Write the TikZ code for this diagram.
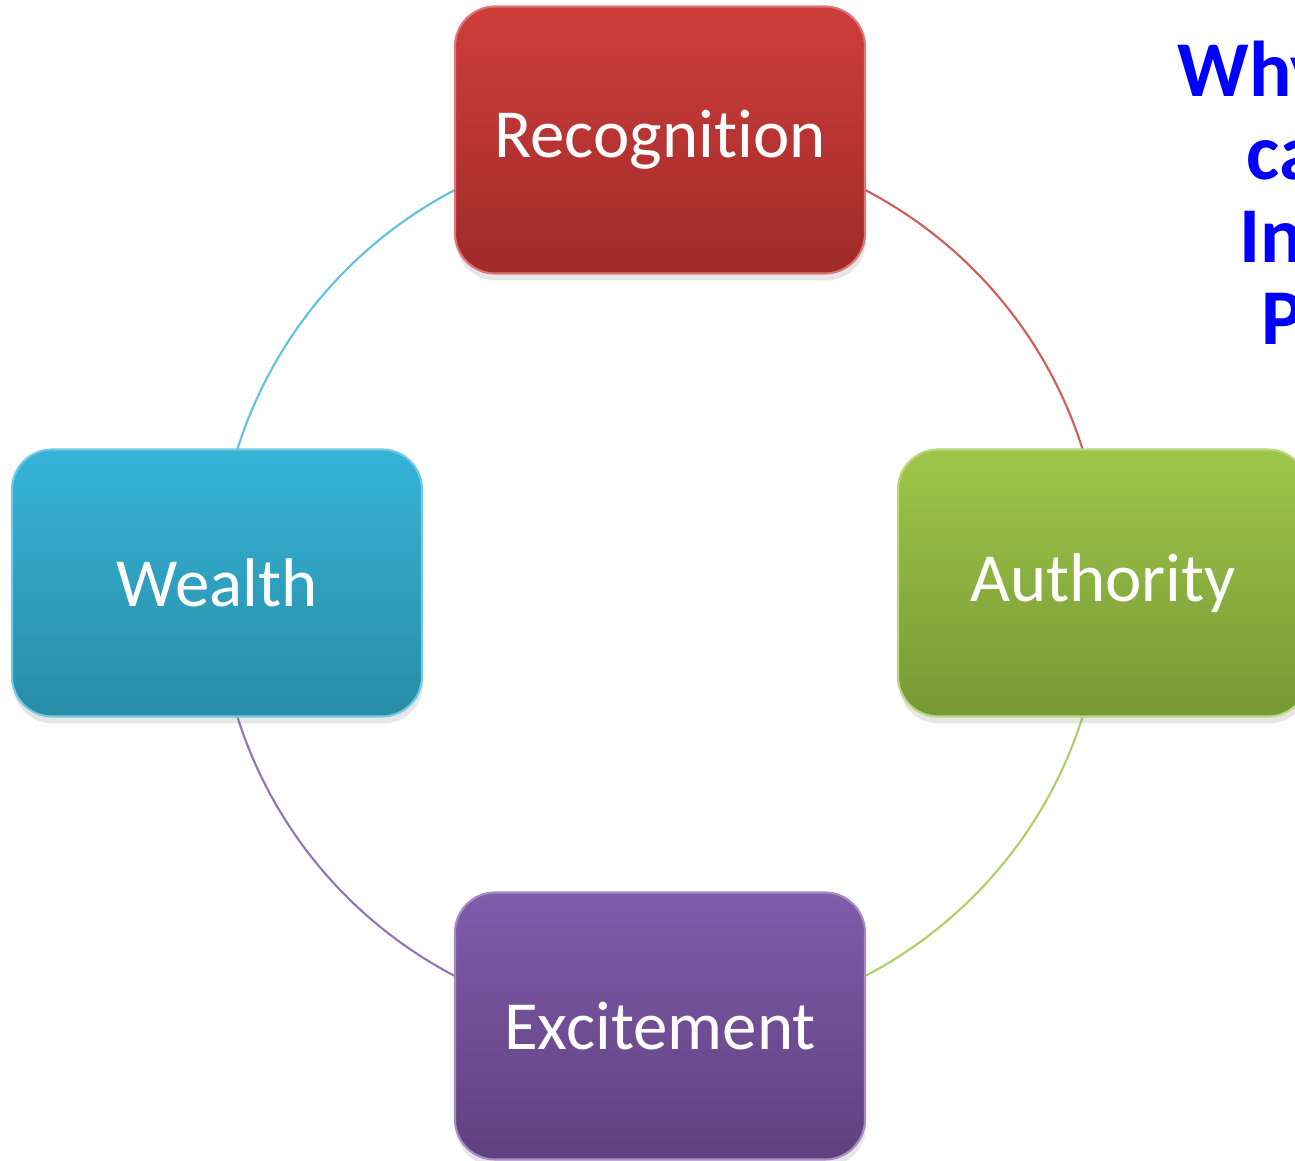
\documentclass[tikz,border=0pt]{standalone}
\usepackage{fontspec}
\setmainfont[Ligatures=NoCommon]{Carlito}
\usetikzlibrary{shadows,backgrounds}

\definecolor{recred}{RGB}{206,62,59}
\definecolor{recreddark}{RGB}{160,43,42}
\definecolor{autgreen}{RGB}{158,198,74}
\definecolor{autgreendark}{RGB}{119,153,53}
\definecolor{weacyan}{RGB}{54,180,216}
\definecolor{weacyandark}{RGB}{40,140,166}
\definecolor{excpurple}{RGB}{127,92,170}
\definecolor{excpurpledark}{RGB}{97,64,128}
\definecolor{whyblue}{RGB}{0,0,255}

\begin{document}
\begin{tikzpicture}[
  box/.style={rectangle, rounded corners=0.4cm, minimum width=4.1cm, minimum height=2.67cm,
    text=white, font=\fontsize{19.6}{23}\selectfont, line width=0.6pt,
    drop shadow={shadow xshift=0.1mm, shadow yshift=-0.7mm, opacity=0.2}},
  ring/.style={line width=0.6pt},
  why/.style={anchor=base west, inner sep=0pt, text=whyblue, font=\fontsize{22.5}{26}\selectfont\bfseries}
]
\useasboundingbox (-6.60,-5.78) rectangle (6.35,5.83);

% Nodes
\node[box, top color=recred, bottom color=recreddark, draw=recred!70!white] (R) at (0,4.43) {Recognition};
\node[box, top color=autgreen, bottom color=autgreendark, draw=autgreen!70!white] (A) at (4.43,0) {Authority};
\node[box, top color=excpurple, bottom color=excpurpledark, draw=excpurple!70!white] (E) at (0,-4.43) {Excitement};
\node[box, top color=weacyan, bottom color=weacyandark, draw=weacyan!70!white] (W) at (-4.43,0) {Wealth};

% Title, cut at the right edge
\node[why] (t1) at (5.17,4.86) {Why};
\node[why] (t2) at (5.86,4.03) {ca};
\node[why] (t3) at (5.79,3.20) {In};
\node[why] (t4) at (6.01,2.38) {P};

% Ring
\begin{pgfonlayer}{background}
\draw[ring, weacyan!80!white] (W.center) to[out=90, in=180] (R.center);
\draw[ring, recred!85!white] (R.center) to[out=0, in=90] (A.center);
\draw[ring, autgreen!85!white] (A.center) to[out=-90, in=0] (E.center);
\draw[ring, excpurple!85!white] (E.center) to[out=180, in=-90] (W.center);
\end{pgfonlayer}

\end{tikzpicture}
\end{document}
